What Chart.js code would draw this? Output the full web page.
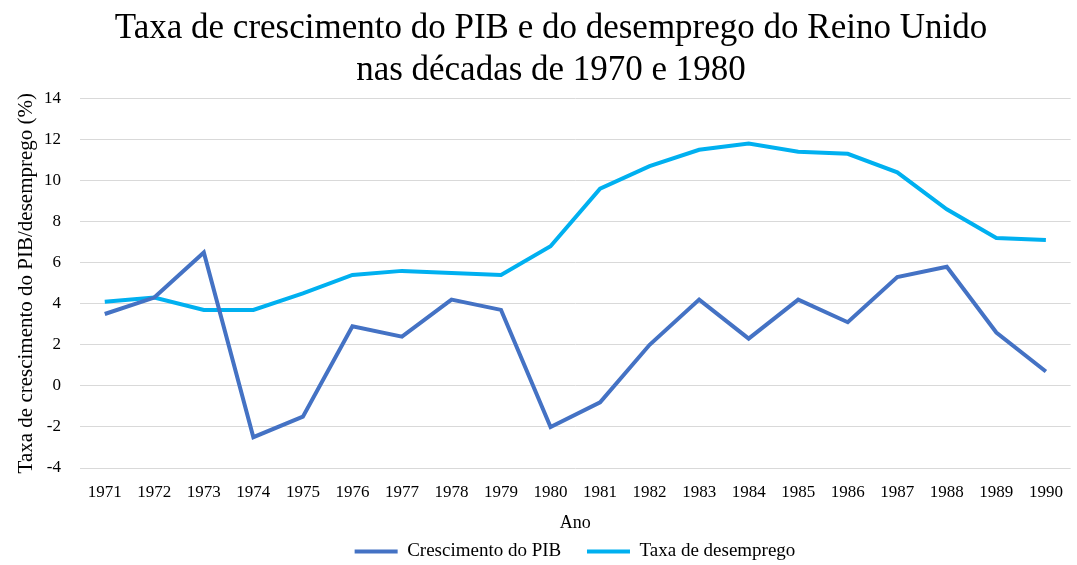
<!DOCTYPE html>
<html>
<head>
<meta charset="utf-8">
<script src="https://cdn.jsdelivr.net/npm/chart.js@4"></script>
<style>
  html, body { margin: 0; padding: 0; background: #fff; }
  #wrap { width: 1077px; height: 565px; }
</style>
</head>
<body>
<div id="wrap"><canvas id="ukChart"></canvas></div>
<script>
    // Anos e séries
    const years = ['1971', '1972', '1973', '1974', '1975', '1976', '1977', '1978', '1979', '1980',
                   '1981', '1982', '1983', '1984', '1985', '1986', '1987', '1988', '1989', '1990'];
    const gdpGrowth = [3.5, 4.3, 6.5, -2.5, -1.5, 2.9, 2.4, 4.2, 3.7, -2.0,
                       -0.8, 2.0, 4.2, 2.3, 4.2, 3.1, 5.3, 5.8, 2.6, 0.7];
    const unemployment = [4.1, 4.3, 3.7, 3.7, 4.5, 5.4, 5.6, 5.5, 5.4, 6.8,
                          9.6, 10.7, 11.5, 11.8, 11.4, 11.3, 10.4, 8.6, 7.2, 7.1];

    const font = 'Liberation Serif';
    const ctx = document.getElementById('ukChart').getContext('2d');

    // título e legenda centrados sobre a área do gráfico, como no original
    const shiftBoxes = {
        id: 'shiftBoxes',
        afterLayout(chart) {
            chart.legend.left += 37;
            chart.legend.right += 37;
            chart.titleBlock.left += 13;
            chart.titleBlock.right += 13;
        }
    };

    new Chart(ctx, {
        type: 'line',
        data: {
            labels: years,
            datasets: [
                {
                    label: 'Crescimento do PIB',
                    data: gdpGrowth,
                    borderColor: '#4472C4',
                    backgroundColor: '#4472C4',
                    borderWidth: 4,
                    pointRadius: 0,
                    tension: 0,
                    fill: false
                },
                {
                    label: 'Taxa de desemprego',
                    data: unemployment,
                    borderColor: '#00B0F0',
                    backgroundColor: '#00B0F0',
                    borderWidth: 4,
                    pointRadius: 0,
                    tension: 0,
                    fill: false
                }
            ]
        },
        options: {
            responsive: true,
            maintainAspectRatio: false,
            animation: false,
            layout: { padding: { left: 4, right: 5, top: 7, bottom: -6 } },
            plugins: {
                title: {
                    display: true,
                    text: ['Taxa de crescimento do PIB e do desemprego do Reino Unido', 'nas décadas de 1970 e 1980'],
                    color: '#000',
                    font: { family: font, size: 35, weight: 'normal', lineHeight: 1.22 },
                    padding: { top: 0, bottom: 6 }
                },
                legend: {
                    position: 'bottom',
                    labels: {
                        color: '#000',
                        font: { family: font, size: 19 },
                        boxWidth: 43,
                        boxHeight: 4,
                        padding: 2,
                        generateLabels(chart) {
                            const items = Chart.defaults.plugins.legend.labels.generateLabels(chart);
                            items.forEach((it, i) => {
                                it.lineWidth = 0;
                                if (i === 0) it.text = it.text + '     ';
                            });
                            return items;
                        }
                    }
                },
                tooltip: { enabled: false }
            },
            scales: {
                x: {
                    offset: true,
                    grid: { display: false, drawTicks: false },
                    border: { display: false },
                    ticks: { color: '#000', font: { family: font, size: 17 }, maxRotation: 0, padding: 14 },
                    title: {
                        display: true,
                        text: 'Ano',
                        color: '#000',
                        font: { family: font, size: 18 },
                        padding: { top: 10, bottom: 6 }
                    },
                    afterFit(scale) { scale.height = 72; }
                },
                y: {
                    min: -4,
                    max: 14,
                    grid: { color: '#d9d9d9', lineWidth: 1, drawTicks: false },
                    border: { display: false },
                    ticks: { stepSize: 2, color: '#000', font: { family: font, size: 17 }, padding: 19 },
                    title: {
                        display: true,
                        text: 'Taxa de crescimento do PIB/desemprego (%)',
                        color: '#000',
                        font: { family: font, size: 21 },
                        padding: { top: 10, bottom: 2 }
                    },
                    afterFit(scale) { scale.width = 76; }
                }
            }
        },
        plugins: [shiftBoxes]
    });
</script>
</body>
</html>
